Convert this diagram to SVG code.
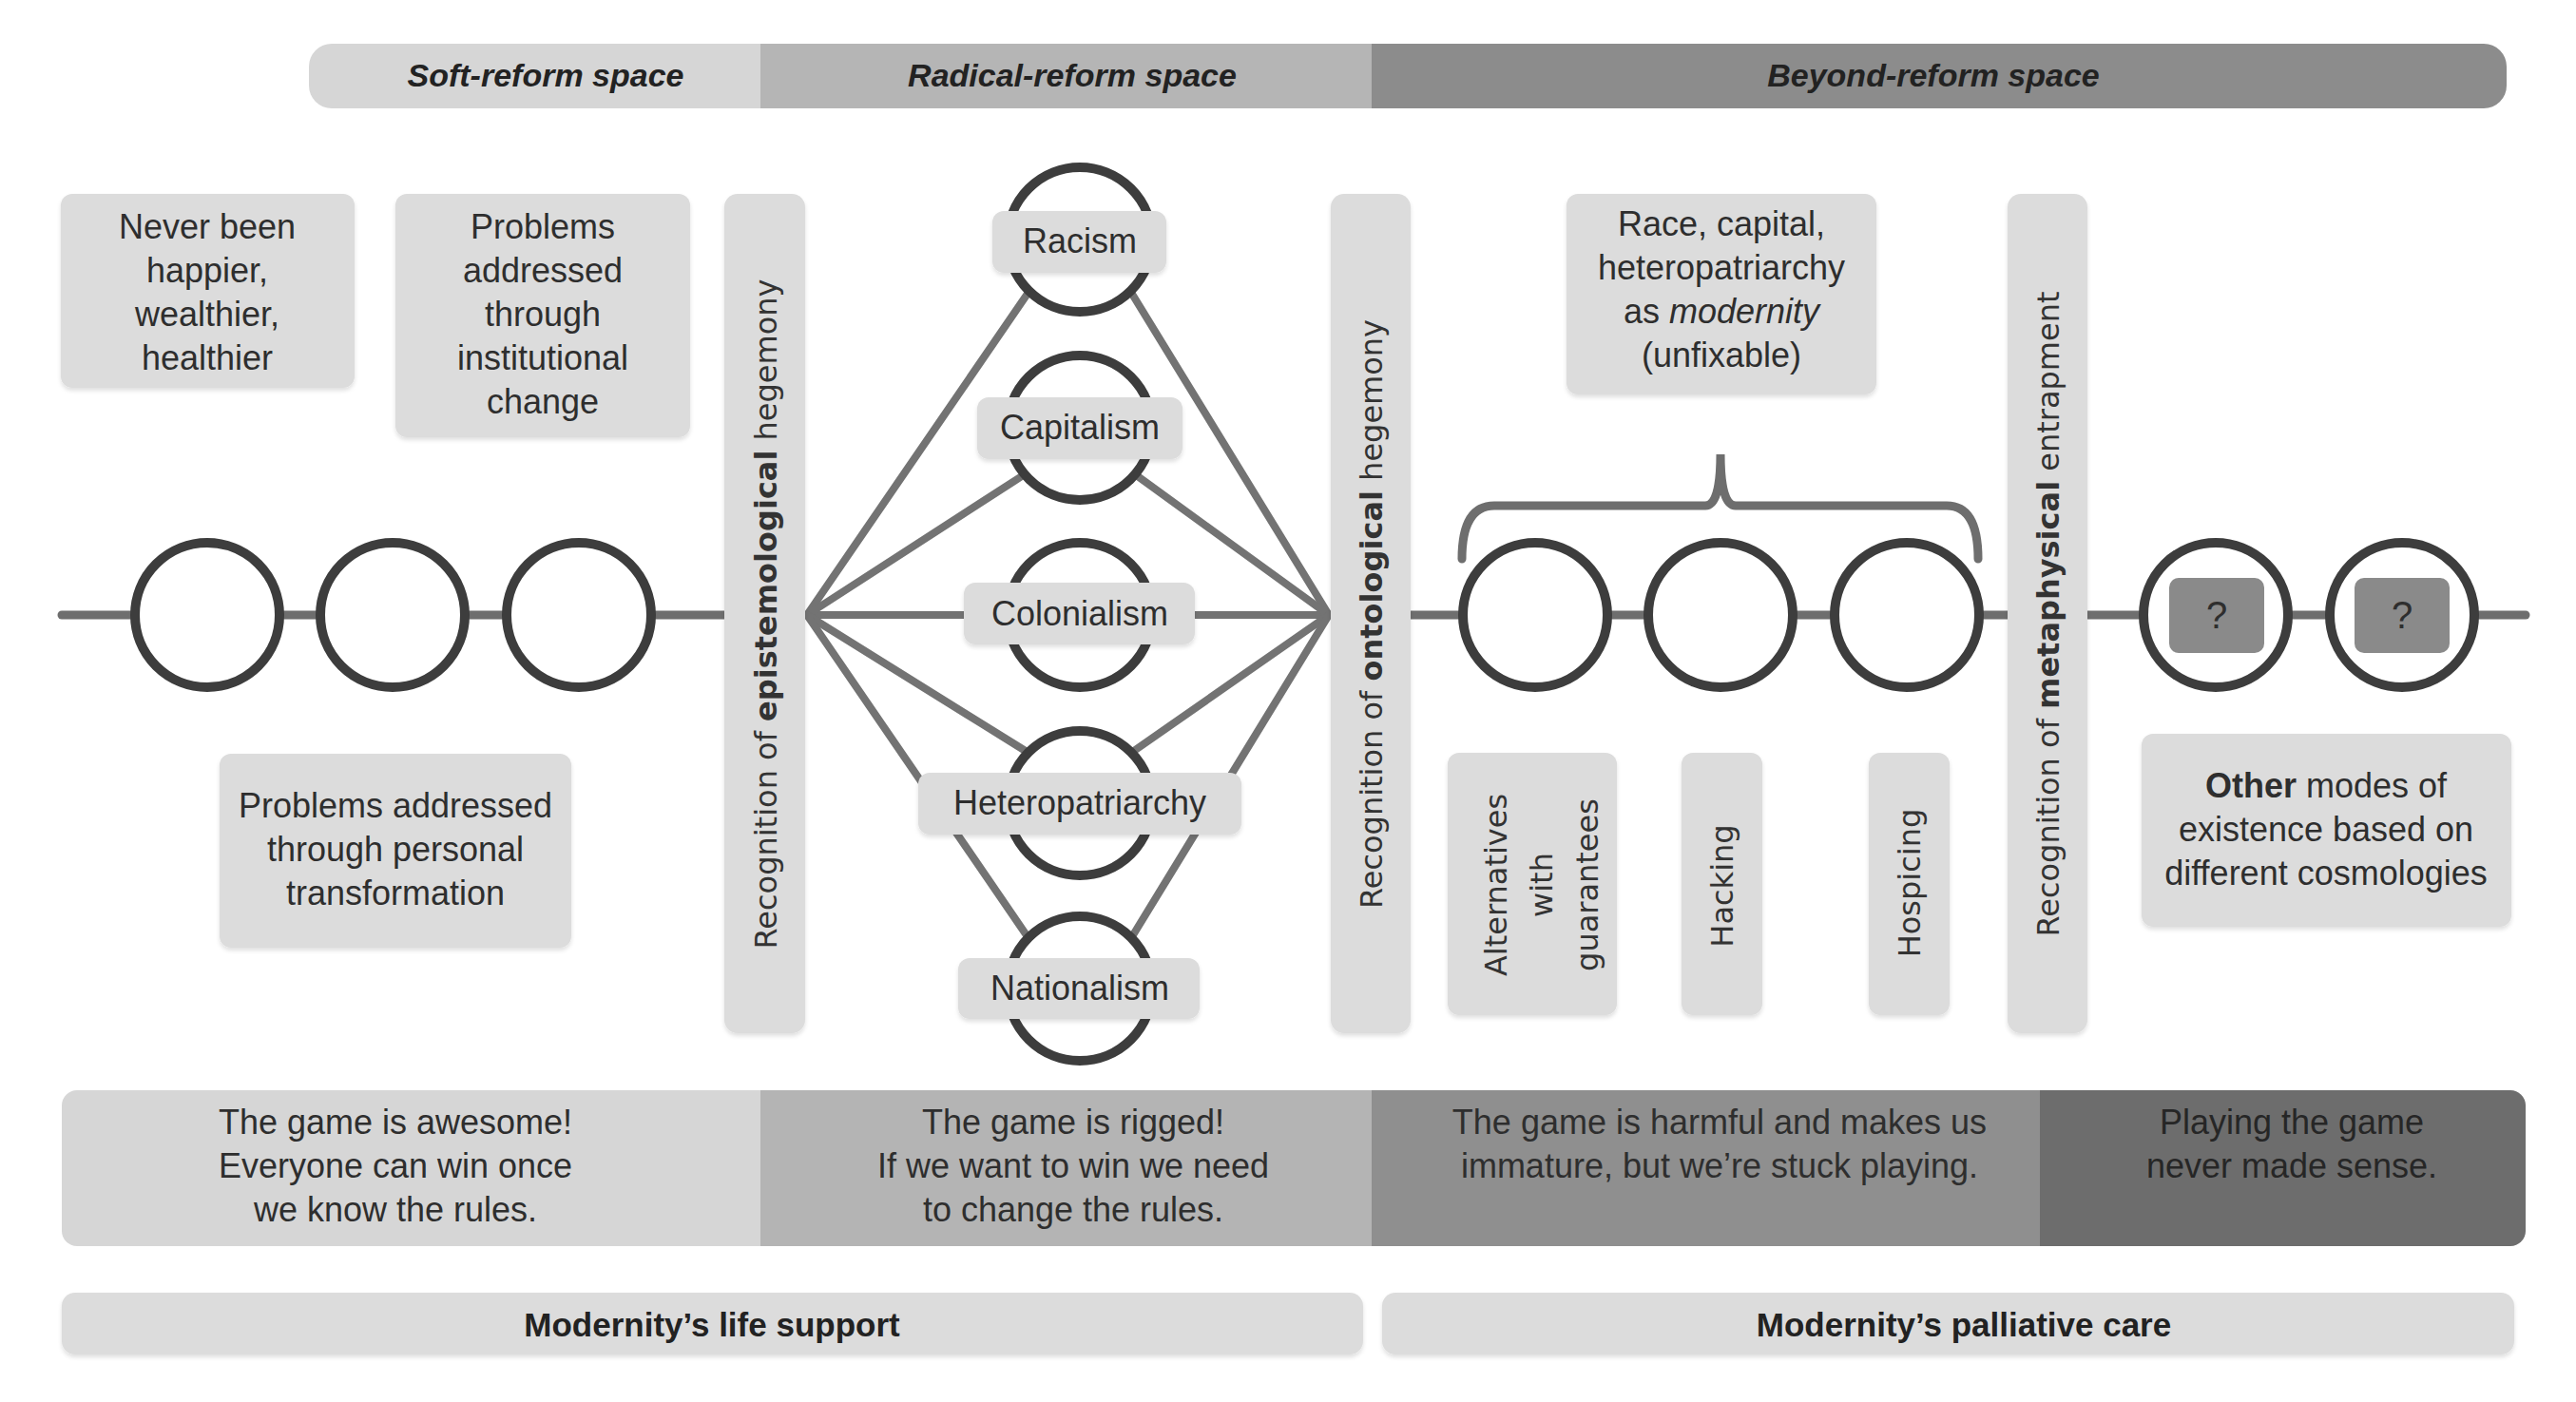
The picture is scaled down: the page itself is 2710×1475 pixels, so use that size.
<svg xmlns="http://www.w3.org/2000/svg" width="2710" height="1475" viewBox="0 0 2710 1475">
<style>
.box{fill:#dcdcdc;filter:url(#sh)}
.t{font-family:"Liberation Sans",Arial,sans-serif;font-size:36px;fill:#2e2e2e;text-anchor:middle}
.hd{font-family:"Liberation Sans",Arial,sans-serif;font-size:34px;font-weight:bold;font-style:italic;fill:#222;text-anchor:middle}
.bb{font-family:"Liberation Sans",Arial,sans-serif;font-size:35px;font-weight:bold;fill:#222;text-anchor:middle}
.v{font-family:"DejaVu Sans",Verdana,sans-serif;font-size:32px;fill:#333;text-anchor:middle}
.ring{fill:#fff;stroke:#3d3d3d;stroke-width:10}
.axis{stroke:#6e6e6e;stroke-width:9;stroke-linecap:round;fill:none}
.dl{stroke:#737373;stroke-width:8;stroke-linecap:round;fill:none}
.q{fill:#8a8a8a}
</style>
<defs>
<filter id="sh" x="-5%" y="-5%" width="110%" height="115%">
<feDropShadow dx="0" dy="3" stdDeviation="2" flood-color="#000" flood-opacity="0.12"/>
</filter>
<clipPath id="topclip"><rect x="325" y="46" width="2312" height="68" rx="24"/></clipPath>
<clipPath id="botclip"><rect x="65" y="1147" width="2592" height="164" rx="16"/></clipPath>
</defs>
<rect width="2710" height="1475" fill="#fff"/>

<g id="top-bar">
<g clip-path="url(#topclip)">
<rect x="325" y="46" width="475" height="68" fill="#d6d6d6"/>
<rect x="800" y="46" width="643" height="68" fill="#b5b5b5"/>
<rect x="1443" y="46" width="1194" height="68" fill="#8c8c8c"/>
</g>
<text class="hd" x="574" y="91">Soft-reform space</text>
<text class="hd" x="1128" y="91">Radical-reform space</text>
<text class="hd" x="2034" y="91">Beyond-reform space</text>
</g>

<g id="connectors">
<line class="axis" x1="65" y1="647" x2="762" y2="647"/>
<line class="axis" x1="1484" y1="647" x2="2112" y2="647"/>
<line class="axis" x1="2196" y1="647" x2="2657" y2="647"/>
<line class="dl" x1="849" y1="647" x2="1398" y2="647"/>
<line class="dl" x1="849" y1="647" x2="1083" y2="306"/>
<line class="dl" x1="849" y1="647" x2="1078" y2="499"/>
<line class="dl" x1="849" y1="647" x2="1082" y2="792"/>
<line class="dl" x1="849" y1="647" x2="1082" y2="987"/>
<line class="dl" x1="1398" y1="647" x2="1189" y2="306"/>
<line class="dl" x1="1398" y1="647" x2="1194" y2="499"/>
<line class="dl" x1="1398" y1="647" x2="1190" y2="792"/>
<line class="dl" x1="1398" y1="647" x2="1190" y2="987"/>
<path class="axis" d="M1538 588 Q1538 532 1572 532 L1794 532 Q1810 532 1810 478 Q1810 532 1826 532 L2048 532 Q2081 532 2081 588"/>
</g>

<g id="circles-left">
<circle class="ring" cx="218" cy="647" r="76"/>
<circle class="ring" cx="413" cy="647" r="76"/>
<circle class="ring" cx="609" cy="647" r="76"/>
</g>

<g id="box-never-been">
<rect class="box" x="64" y="204" width="309" height="204" rx="12"/>
<text class="t" x="218" y="251">Never been</text>
<text class="t" x="218" y="297">happier,</text>
<text class="t" x="218" y="343">wealthier,</text>
<text class="t" x="218" y="389">healthier</text>
</g>

<g id="box-institutional">
<rect class="box" x="416" y="204" width="310" height="256" rx="12"/>
<text class="t" x="571" y="251">Problems</text>
<text class="t" x="571" y="297">addressed</text>
<text class="t" x="571" y="343">through</text>
<text class="t" x="571" y="389">institutional</text>
<text class="t" x="571" y="435">change</text>
</g>

<g id="box-personal">
<rect class="box" x="231" y="793" width="370" height="204" rx="12"/>
<text class="t" x="416" y="860">Problems addressed</text>
<text class="t" x="416" y="906">through personal</text>
<text class="t" x="416" y="952">transformation</text>
</g>

<g id="bar-epistemological">
<rect class="box" x="762" y="204" width="85" height="883" rx="14"/>
<text class="v" transform="translate(805,646) rotate(-90)" x="0" y="12">Recognition of <tspan font-weight="bold">epistemological</tspan> hegemony</text>
</g>

<g id="center-circles">
<circle class="ring" cx="1136" cy="252" r="76"/>
<circle class="ring" cx="1136" cy="450" r="76"/>
<circle class="ring" cx="1136" cy="647" r="76"/>
<circle class="ring" cx="1136" cy="845" r="76"/>
<circle class="ring" cx="1136" cy="1040" r="76"/>
</g>

<g id="node-racism">
<rect class="box" x="1044" y="222" width="183" height="65" rx="12"/>
<text class="t" x="1136" y="266">Racism</text>
</g>
<g id="node-capitalism">
<rect class="box" x="1028" y="418" width="216" height="65" rx="12"/>
<text class="t" x="1136" y="462">Capitalism</text>
</g>
<g id="node-colonialism">
<rect class="box" x="1014" y="613" width="243" height="65" rx="12"/>
<text class="t" x="1136" y="658">Colonialism</text>
</g>
<g id="node-heteropatriarchy">
<rect class="box" x="966" y="813" width="340" height="65" rx="12"/>
<text class="t" x="1136" y="857">Heteropatriarchy</text>
</g>
<g id="node-nationalism">
<rect class="box" x="1008" y="1008" width="254" height="64" rx="12"/>
<text class="t" x="1136" y="1052">Nationalism</text>
</g>

<g id="bar-ontological">
<rect class="box" x="1400" y="204" width="84" height="883" rx="14"/>
<text class="v" transform="translate(1442,646) rotate(-90)" x="0" y="12">Recognition of <tspan font-weight="bold">ontological</tspan> hegemony</text>
</g>

<g id="box-race-capital">
<rect class="box" x="1648" y="204" width="326" height="211" rx="12"/>
<text class="t" x="1811" y="248">Race, capital,</text>
<text class="t" x="1811" y="294">heteropatriarchy</text>
<text class="t" x="1811" y="340">as <tspan font-style="italic">modernity</tspan></text>
<text class="t" x="1811" y="386">(unfixable)</text>
</g>

<g id="circles-beyond">
<circle class="ring" cx="1615" cy="647" r="76"/>
<circle class="ring" cx="1810" cy="647" r="76"/>
<circle class="ring" cx="2006" cy="647" r="76"/>
</g>

<g id="box-alternatives">
<rect class="box" x="1523" y="792" width="178" height="276" rx="12"/>
<text class="v" transform="translate(1585,931) rotate(-90)" x="0" y="0">Alternatives</text>
<text class="v" transform="translate(1633,931) rotate(-90)" x="0" y="0">with</text>
<text class="v" transform="translate(1681,931) rotate(-90)" x="0" y="0">guarantees</text>
</g>
<g id="box-hacking">
<rect class="box" x="1769" y="792" width="85" height="276" rx="12"/>
<text class="v" transform="translate(1811,932) rotate(-90)" x="0" y="12">Hacking</text>
</g>
<g id="box-hospicing">
<rect class="box" x="1966" y="792" width="85" height="276" rx="12"/>
<text class="v" transform="translate(2008,929) rotate(-90)" x="0" y="12">Hospicing</text>
</g>

<g id="bar-metaphysical">
<rect class="box" x="2112" y="204" width="84" height="883" rx="14"/>
<text class="v" transform="translate(2154,646) rotate(-90)" x="0" y="12">Recognition of <tspan font-weight="bold">metaphysical</tspan> entrapment</text>
</g>

<g id="node-unknown-1">
<circle class="ring" cx="2331" cy="647" r="76"/>
<rect class="q" x="2282" y="608" width="100" height="79" rx="10"/>
<text class="t" x="2332" y="661" style="font-size:40px">?</text>
</g>
<g id="node-unknown-2">
<circle class="ring" cx="2527" cy="647" r="76"/>
<rect class="q" x="2477" y="608" width="100" height="79" rx="10"/>
<text class="t" x="2527" y="661" style="font-size:40px">?</text>
</g>

<g id="box-other-modes">
<rect class="box" x="2253" y="772" width="389" height="203" rx="12"/>
<text class="t" x="2447" y="839"><tspan font-weight="bold">Other</tspan> modes of</text>
<text class="t" x="2447" y="885">existence based on</text>
<text class="t" x="2447" y="931">different cosmologies</text>
</g>

<g id="game-band">
<g clip-path="url(#botclip)" filter="url(#sh)">
<rect x="65" y="1147" width="735" height="164" fill="#d6d6d6"/>
<rect x="800" y="1147" width="643" height="164" fill="#b4b4b4"/>
<rect x="1443" y="1147" width="703" height="164" fill="#8f8f8f"/>
<rect x="2146" y="1147" width="511" height="164" fill="#6d6d6d"/>
</g>
<text class="t" x="416" y="1193">The game is awesome!</text>
<text class="t" x="416" y="1239">Everyone can win once</text>
<text class="t" x="416" y="1285">we know the rules.</text>
<text class="t" x="1129" y="1193">The game is rigged!</text>
<text class="t" x="1129" y="1239">If we want to win we need</text>
<text class="t" x="1129" y="1285">to change the rules.</text>
<text class="t" x="1809" y="1193">The game is harmful and makes us</text>
<text class="t" x="1809" y="1239">immature, but we’re stuck playing.</text>
<text class="t" x="2411" y="1193" style="fill:#262626">Playing the game</text>
<text class="t" x="2411" y="1239" style="fill:#262626">never made sense.</text>
</g>

<g id="life-support">
<rect class="box" x="65" y="1360" width="1369" height="65" rx="14"/>
<text class="bb" x="749" y="1406">Modernity’s life support</text>
</g>
<g id="palliative-care">
<rect class="box" x="1454" y="1360" width="1191" height="65" rx="14"/>
<text class="bb" x="2066" y="1406">Modernity’s palliative care</text>
</g>
</svg>
